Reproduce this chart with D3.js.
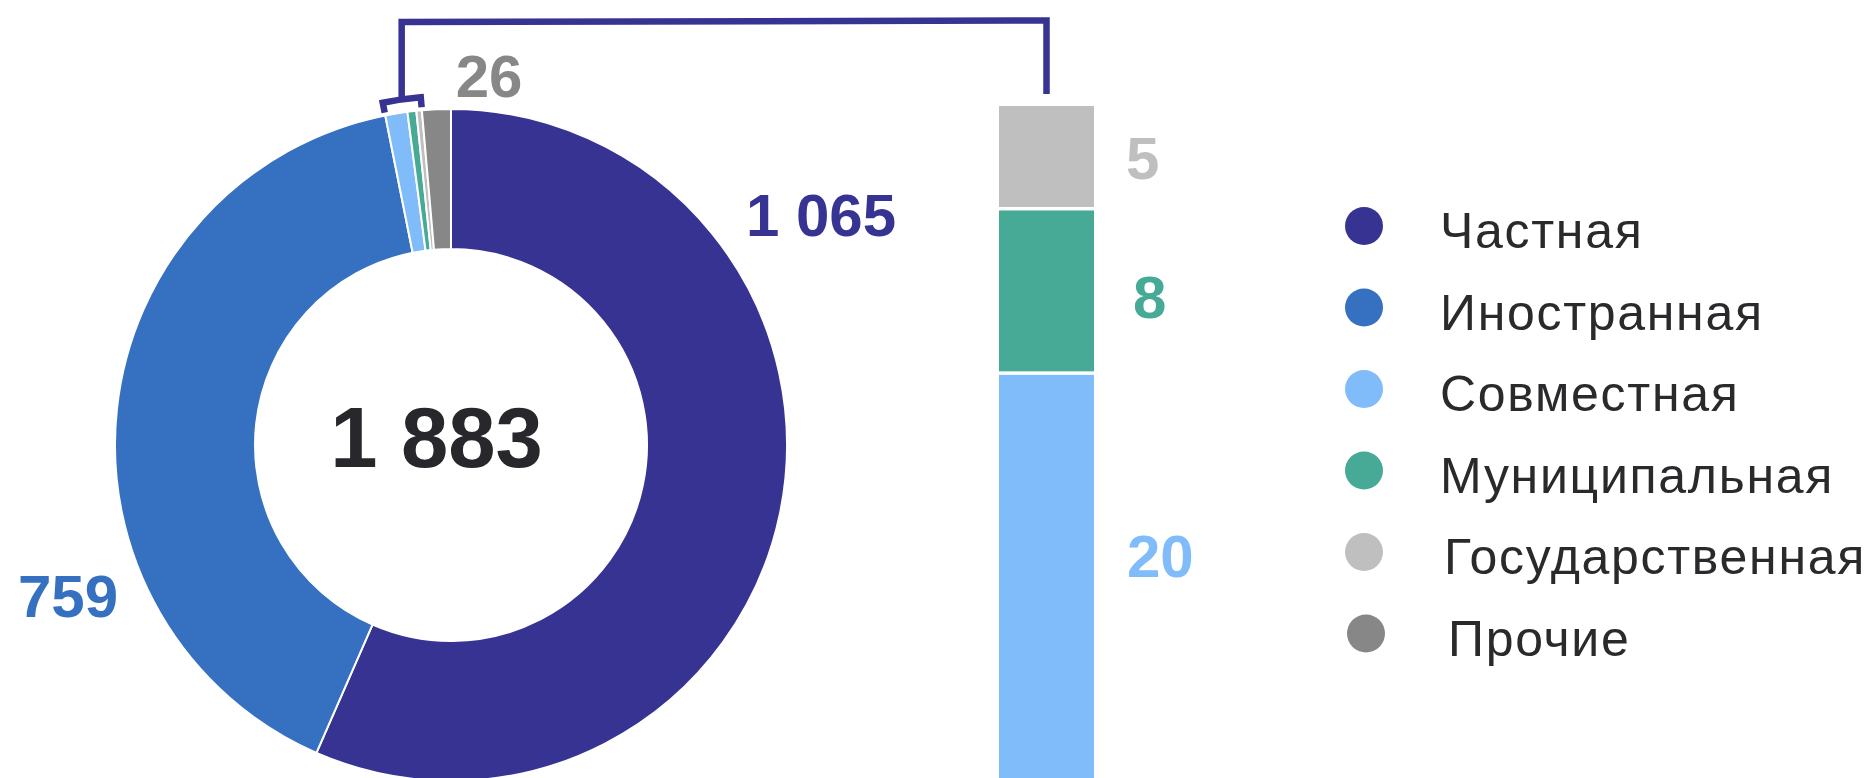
<!DOCTYPE html>
<html>
<head>
<meta charset="utf-8">
<script src="https://cdn.jsdelivr.net/npm/d3@7"></script>
<style>
  html, body { margin: 0; padding: 0; background: #ffffff; }
  svg { display: block; }
  text { font-family: "Liberation Sans", Arial, sans-serif; }
</style>
</head>
<body>
<svg id="chart" width="1869" height="778"></svg>
<script>
// ---- data ----
const categories = ["Частная", "Иностранная", "Совместная", "Муниципальная", "Государственная", "Прочие"];
const values = [1065, 759, 20, 8, 5, 26];
const detailCategories = ["Совместная", "Муниципальная", "Государственная"]; // stacked bottom -> top
const donutLabelCategories = ["Частная", "Иностранная", "Прочие"];

// ---- styles ----
const palette = ["#373393", "#3670c0", "#80bbfa", "#46aa96", "#bfbfbf", "#878787"];
const color = d3.scaleOrdinal().domain(categories).range(palette);
const fmt = d3.formatLocale({ decimal: ",", thousands: " ", grouping: [3], currency: ["", ""] }).format(",d");

const svg = d3.select("#chart");

// ---- donut ----
const cx = 451, cy = 445, R = 336, r0 = 196;
const data = categories.map((c, i) => ({ cat: c, value: values[i] }));
const total = d3.sum(values);

const pie = d3.pie().sort(null).value(d => d.value).startAngle(0).endAngle(2 * Math.PI);
const arcs = pie(data);
const arcGen = d3.arc().innerRadius(r0).outerRadius(R);

const g = svg.append("g").attr("transform", `translate(${cx},${cy})`);
g.selectAll("path.slice")
  .data(arcs)
  .join("path")
  .attr("class", "slice")
  .attr("d", arcGen)
  .attr("fill", d => color(d.data.cat))
  .attr("stroke", "#ffffff")
  .attr("stroke-width", 2)
  .attr("stroke-linejoin", "round");

// center total
svg.append("text")
  .attr("x", cx - 14.5).attr("y", 467)
  .attr("text-anchor", "middle")
  .attr("font-size", 85).attr("font-weight", "bold")
  .attr("fill", "#28282c")
  .text(fmt(total));

// donut value labels (placement only)
const labelPos = { "Частная": [821, 236], "Иностранная": [68, 617], "Прочие": [489, 97] };
donutLabelCategories.forEach(c => {
  const i = categories.indexOf(c);
  svg.append("text")
    .attr("x", labelPos[c][0]).attr("y", labelPos[c][1])
    .attr("text-anchor", "middle")
    .attr("font-size", 60).attr("font-weight", "bold")
    .attr("fill", color(c))
    .text(fmt(values[i]));
});

// ---- bracket + connector ----
const detailArcs = arcs.filter(a => detailCategories.includes(a.data.cat));
const a0 = d3.min(detailArcs, a => a.startAngle);
const a1 = d3.max(detailArcs, a => a.endAngle);
const am = (a0 + a1) / 2;
const pt = (rad, th) => [cx + rad * Math.sin(th), cy - rad * Math.cos(th)];
const rb = 349, rt = 339;
const lineW = 6.5;
const bp = d3.path();
bp.moveTo(...pt(rt, a0));
bp.lineTo(...pt(rb, a0));
bp.arc(cx, cy, rb, a0 - Math.PI / 2, a1 - Math.PI / 2, false);
bp.lineTo(...pt(rt, a1));
svg.append("path").attr("d", bp.toString())
  .attr("fill", "none").attr("stroke", color("Частная")).attr("stroke-width", lineW)
  .attr("stroke-linejoin", "miter");

// ---- detail stacked bar ----
const barX0 = 999, barX1 = 1094;
const detailValues = detailCategories.map(c => values[categories.indexOf(c)]);
const detailSum = d3.sum(detailValues);
const y = d3.scaleLinear().domain([0, detailSum]).range([784, 106]);
const stackData = [Object.fromEntries(detailCategories.map((c, i) => [c, detailValues[i]]))];
const series = d3.stack().keys(detailCategories)(stackData);

const mid = pt(rb, am);
const barMidX = (barX0 + barX1) / 2;
svg.append("path")
  .attr("d", d3.line()([[mid[0], mid[1]], [mid[0], 22], [barMidX, 20.5], [barMidX, 94]]))
  .attr("fill", "none").attr("stroke", color("Частная")).attr("stroke-width", lineW)
  .attr("stroke-linejoin", "miter");

const gap = 1.75;
svg.append("g").selectAll("rect")
  .data(series)
  .join("rect")
  .attr("x", barX0)
  .attr("width", barX1 - barX0)
  .attr("y", d => y(d[0][1]) + (d[0][1] === detailSum ? 0 : gap))
  .attr("height", d => y(d[0][0]) - y(d[0][1]) - (d[0][1] === detailSum ? 0 : gap) - (d[0][0] === 0 ? 0 : gap))
  .attr("fill", d => color(d.key));

// bar labels (placement nudges)
const barLabelNudgeY = { "Совместная": -23, "Муниципальная": 6, "Государственная": 1 };
const barLabelNudgeX = { "Совместная": 1, "Муниципальная": 7, "Государственная": 0 };
svg.append("g").selectAll("text")
  .data(series)
  .join("text")
  .attr("x", d => 1126 + barLabelNudgeX[d.key])
  .attr("y", d => (y(d[0][0]) + y(d[0][1])) / 2 + barLabelNudgeY[d.key] + 21)
  .attr("text-anchor", "start")
  .attr("font-size", 60).attr("font-weight", "bold")
  .attr("fill", d => color(d.key))
  .text(d => fmt(d[0][1] - d[0][0]));

// ---- legend ----
const legendNudge = [0, 0, 0, 0, 4, 8];
const lg = svg.append("g");
const legendItems = lg.selectAll("g")
  .data(categories)
  .join("g")
  .attr("transform", (d, i) => `translate(0,${226 + i * 81.5})`);
legendItems.append("circle")
  .attr("cx", (d, i) => 1364 + (i === 5 ? 2 : 0))
  .attr("cy", 0).attr("r", 19)
  .attr("fill", d => color(d));
legendItems.append("text")
  .attr("x", (d, i) => 1440 + legendNudge[i])
  .attr("y", 22)
  .attr("font-size", 50)
  .attr("letter-spacing", 1.7)
  .attr("fill", "#2a2a2d")
  .text(d => d);
</script>
</body>
</html>
